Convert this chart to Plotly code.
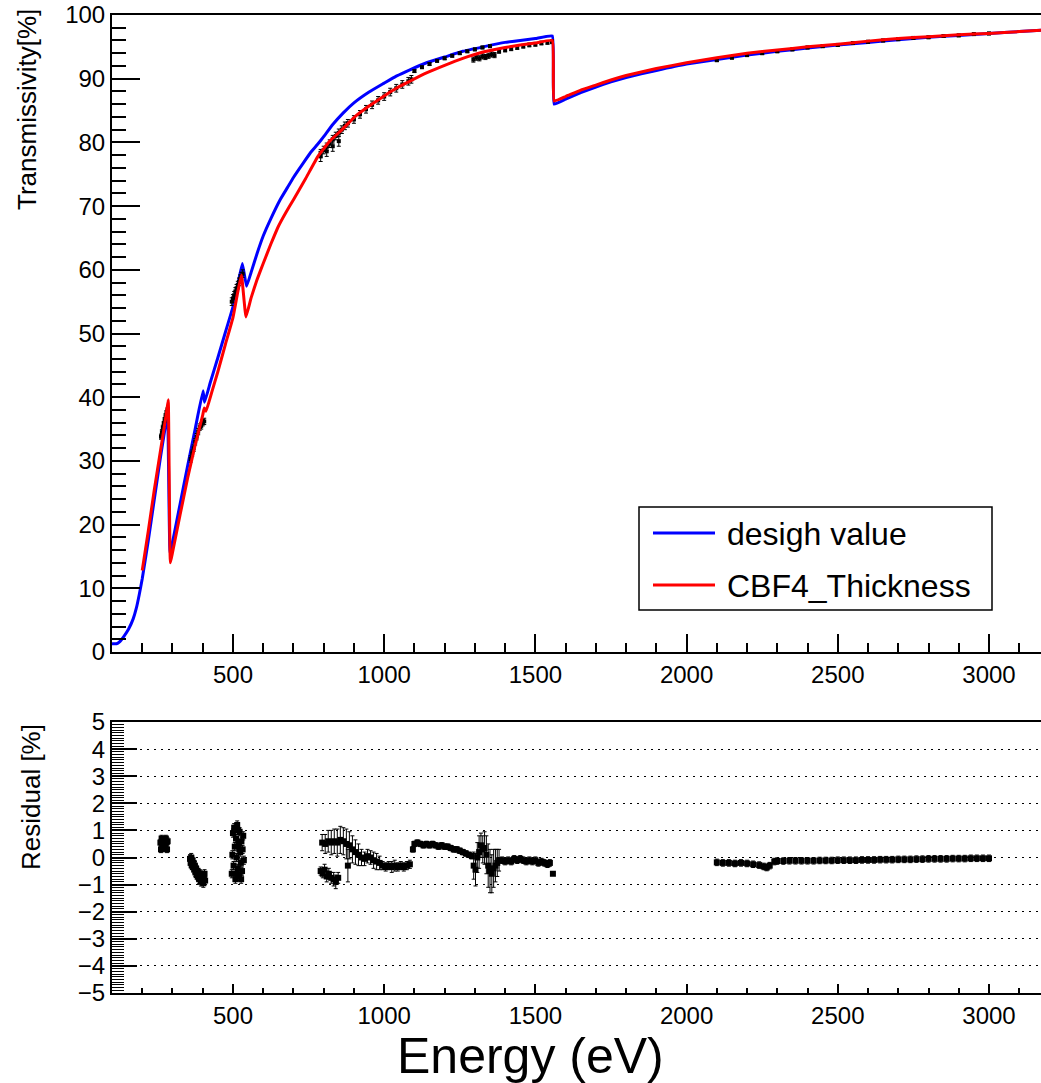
import plotly.graph_objects as go

# ---------------- data ----------------
# design value curve (blue)
design_E = [100, 115, 125, 140, 155, 170, 180, 190, 200, 220, 240, 260, 280, 284, 292, 300,
            325, 350, 375, 401, 406, 425, 450, 475, 500, 515, 531, 545, 560, 580, 600, 625,
            656, 680, 700, 730, 755, 780, 800, 830, 864, 900, 950, 1000, 1040, 1085, 1140,
            1200, 1260, 1327, 1400, 1450, 1500, 1556, 1562, 1600, 1650, 1700, 1750, 1800,
            1900, 2000, 2100, 2200, 2300, 2400, 2500, 2600, 2700, 2800, 2900, 3000, 3100, 3200]
design_T = [1.3, 1.3, 1.6, 2.5, 3.6, 5.2, 6.8, 9.0, 11.5, 17.5, 24.0, 30.5, 36.5, 37.8, 15.5, 17.2,
            23.2, 29.2, 35.0, 41.0, 39.2, 42.3, 46.2, 50.2, 54.2, 57.5, 61.0, 57.4, 59.6, 62.6, 65.3, 68.0,
            71.0, 72.9, 74.5, 76.6, 78.3, 79.7, 80.9, 82.8, 84.6, 86.2, 87.9, 89.3, 90.4, 91.4, 92.5,
            93.4, 94.3, 95.0, 95.7, 96.0, 96.3, 96.7, 86.0, 86.8, 87.8, 88.7, 89.5, 90.2,
            91.3, 92.3, 93.0, 93.7, 94.3, 94.8, 95.3, 95.7, 96.1, 96.5, 96.8, 97.1, 97.4, 97.7]

# CBF4_Thickness fit curve (red)
fit_E = [200, 220, 240, 260, 280, 286, 293, 300, 325, 350, 375, 400, 405, 411, 430, 450, 475,
         500, 515, 528, 543, 560, 580, 600, 625, 650, 675, 700, 740, 781, 820, 865, 900, 950,
         1000, 1040, 1085, 1140, 1200, 1260, 1327, 1400, 1450, 1500, 1556, 1562, 1600, 1650,
         1700, 1750, 1800, 1900, 2000, 2100, 2200, 2300, 2400, 2500, 2600, 2700, 2800, 2900,
         3000, 3100, 3200]
fit_T = [12.8, 19.0, 25.5, 31.5, 37.5, 39.6, 14.0, 15.6, 21.5, 27.3, 32.5, 37.2, 38.3, 37.8, 40.8,
         44.0, 48.3, 52.5, 56.3, 59.2, 52.6, 55.6, 58.5, 61.0, 64.0, 66.8, 69.0, 71.0, 74.3, 77.8,
         80.2, 82.2, 83.9, 85.7, 87.3, 88.5, 89.6, 90.9, 92.1, 93.2, 94.2, 94.9, 95.3, 95.6, 96.0,
         86.5, 87.2, 88.2, 89.0, 89.8, 90.5, 91.6, 92.5, 93.3, 94.0, 94.5, 95.0, 95.4, 95.9, 96.3,
         96.6, 96.9, 97.1, 97.4, 97.7]

# measured transmissivity points (energy, value, error) by segment
meas_E_A = [262, 265, 268, 271, 274, 277, 280, 283]
meas_T_A = [33.8, 34.5, 35.2, 35.8, 36.4, 37.0, 37.5, 37.9]
meas_E_B = [360, 365, 370, 375, 380, 385, 390, 395, 400, 405]
meas_T_B = [30.3, 31.2, 32.0, 33.0, 33.8, 34.6, 35.3, 35.5, 36.0, 36.2]
meas_E_C = [496, 500, 504, 508, 512, 516, 520, 524, 528, 532]
meas_T_C = [55.0, 55.5, 56.0, 56.6, 57.1, 57.6, 58.1, 58.6, 59.0, 59.4]
meas_E_D = [790, 800, 810, 820, 830, 840, 850, 860, 870, 880, 900, 920, 940, 960, 980, 1000,
            1020, 1040, 1060, 1080, 1090, 790, 810, 830, 850]
meas_T_D = [78.3, 78.8, 79.3, 79.8, 80.5, 81.0, 81.5, 82.0, 82.6, 83.0, 83.6, 84.4, 85.2, 85.9,
            86.6, 87.2, 87.9, 88.5, 89.1, 89.6, 89.9, 77.8, 78.6, 79.4, 80.2]
meas_E_F = [1100, 1125, 1150, 1175, 1200, 1225, 1250, 1275, 1300, 1325, 1350,
            1295, 1305, 1315, 1325, 1335, 1345, 1355, 1365,
            1380, 1400, 1420, 1440, 1460, 1480, 1500, 1520, 1540, 1555]
meas_T_F = [91.2, 91.8, 92.3, 92.8, 93.2, 93.6, 94.0, 94.3, 94.6, 94.9, 95.1,
            93.0, 93.3, 93.2, 93.5, 93.4, 93.6, 93.8, 93.7,
            94.3, 94.5, 94.7, 94.9, 95.1, 95.3, 95.4, 95.6, 95.7, 95.8]
meas_E_G = [2100, 2150, 2200, 2250, 2300, 2350, 2400, 2450, 2500, 2550, 2600, 2650, 2700,
            2750, 2800, 2850, 2900, 2950, 3000]
meas_T_G = [92.9, 93.3, 93.7, 94.0, 94.3, 94.6, 94.9, 95.1, 95.3, 95.6, 95.8, 96.0, 96.2,
            96.4, 96.5, 96.7, 96.8, 97.0, 97.1]
meas_err_A, meas_err_B, meas_err_C = 0.4, 0.5, 0.6
meas_err_D = [0.6] * 21 + [0.8] * 4
meas_err_F = [0.2] * 11 + [0.4] * 8 + [0.3] * 10
meas_err_G = 0.2

# residuals by segment
res_E_A = [260, 262, 264, 266, 268, 270, 272, 274, 276, 278, 280, 282, 284]
res_A = [0.55, 0.3, 0.7, 0.45, 0.6, 0.35, 0.65, 0.5, 0.4, 0.7, 0.55, 0.3, 0.6]
res_E_B = [358, 360, 362, 364, 366, 368, 370, 372, 374, 376, 378, 380, 382, 384, 386, 388,
           390, 392, 394, 396, 398, 400, 402, 404, 406, 408]
res_B = [-0.05, -0.2, 0.0, -0.3, -0.1, -0.35, -0.2, -0.45, -0.3, -0.55, -0.4, -0.65, -0.5, -0.7,
         -0.55, -0.8, -0.6, -0.75, -0.9, -0.65, -0.85, -0.7, -0.95, -0.75, -0.6, -0.85]
res_E_C = [496, 498, 500, 502, 504, 506, 508, 510, 511, 512, 514, 516, 517, 518, 520, 521, 522,
           524, 526, 527, 528, 530, 532, 534, 536]
res_C = [-0.6, 0.1, 0.9, -0.3, 1.1, 0.4, -0.8, 0.7, -0.6, 0.0, 1.2, -0.4, 1.0, 0.5, -0.7, 0.3,
         0.95, 0.2, -0.2, -0.8, 0.6, -0.5, 0.3, 0.8, -0.1]
res_E_D = [795, 805, 815, 825, 835, 845, 855, 865, 875, 885, 895, 905, 915, 925, 935, 945,
           955, 965, 975, 985, 995, 1005, 1015, 1025, 1035, 1045, 1055, 1065, 1075, 1085]
res_D = [0.55, 0.5, 0.6, 0.55, 0.6, 0.55, 0.65, 0.6, 0.5, 0.45, 0.3, 0.2, 0.1, 0.0, -0.05, 0.05,
         0.0, -0.1, -0.15, -0.2, -0.3, -0.35, -0.3, -0.35, -0.3, -0.35, -0.3, -0.35, -0.3, -0.25]
err_D = [0.3, 0.35, 0.4, 0.45, 0.45, 0.5, 0.5, 0.5, 0.55, 0.5, 0.5, 0.45, 0.4, 0.3, 0.25, 0.25,
         0.25, 0.3, 0.3, 0.25, 0.15, 0.15, 0.15, 0.2, 0.2, 0.15, 0.15, 0.15, 0.15, 0.15]
res_E_D2 = [790, 797, 803, 810, 817, 825, 833, 840, 848, 880]
res_D2 = [-0.5, -0.6, -0.45, -0.7, -0.6, -0.75, -0.8, -0.9, -0.75, -0.3]
err_D2 = [0.15, 0.15, 0.2, 0.2, 0.2, 0.2, 0.25, 0.25, 0.2, 0.6]
res_E_F = [1095, 1100, 1110, 1120, 1130, 1140, 1150, 1160, 1170, 1180, 1190, 1200, 1210, 1220,
           1230, 1240, 1250, 1260, 1270, 1280, 1290]
res_F = [0.3, 0.5, 0.55, 0.5, 0.45, 0.5, 0.45, 0.5, 0.45, 0.4, 0.45, 0.4, 0.4, 0.35,
         0.3, 0.3, 0.25, 0.2, 0.15, 0.1, 0.05]
res_E_F2 = [1296, 1302, 1308, 1314, 1320, 1326, 1332, 1338, 1344, 1350, 1356, 1362, 1368, 1374, 1380]
res_F2 = [-0.3, -0.45, 0.0, 0.2, 0.45, 0.3, 0.35, 0.1, -0.3, -0.5, -0.6, -0.4, -0.3, -0.2, -0.1]
err_F2 = [0.5, 0.6, 0.55, 0.6, 0.45, 0.5, 0.6, 0.7, 0.8, 0.8, 0.7, 0.7, 0.6, 0.5, 0.4]
res_E_F3 = [1390, 1400, 1410, 1420, 1430, 1440, 1450, 1460, 1470, 1480, 1490, 1500, 1510, 1520,
            1530, 1540, 1548, 1558]
res_F3 = [-0.1, -0.15, -0.1, -0.15, -0.05, -0.1, -0.05, -0.1, -0.15, -0.1, -0.15, -0.1, -0.2,
          -0.15, -0.2, -0.25, -0.2, -0.6]
res_E_G = [2100, 2120, 2140, 2160, 2180, 2200, 2220, 2240, 2255, 2265, 2275, 2290, 2300, 2320,
           2340, 2360, 2380, 2400, 2420, 2440, 2460, 2480, 2500, 2520, 2540, 2560, 2580, 2600,
           2620, 2640, 2660, 2680, 2700, 2720, 2740, 2760, 2780, 2800, 2820, 2840, 2860, 2880,
           2900, 2920, 2940, 2960, 2980, 3000]
res_G = [-0.18, -0.2, -0.2, -0.22, -0.2, -0.22, -0.25, -0.28, -0.33, -0.37, -0.3, -0.15,
         -0.13, -0.13, -0.12, -0.12, -0.12, -0.12, -0.12, -0.11, -0.11, -0.11, -0.1, -0.1,
         -0.1, -0.1, -0.09, -0.09, -0.09, -0.08, -0.08, -0.08, -0.07, -0.07, -0.07, -0.06,
         -0.06, -0.05, -0.05, -0.05, -0.05, -0.04, -0.04, -0.04, -0.03, -0.03, -0.03, -0.03]

x_range = [100, 3172]

# assemble the series
meas_E = meas_E_A + meas_E_B + meas_E_C + meas_E_D + meas_E_F + meas_E_G
meas_T = meas_T_A + meas_T_B + meas_T_C + meas_T_D + meas_T_F + meas_T_G
meas_err = ([meas_err_A] * len(meas_E_A) + [meas_err_B] * len(meas_E_B) +
            [meas_err_C] * len(meas_E_C) + meas_err_D + meas_err_F +
            [meas_err_G] * len(meas_E_G))

res_E = res_E_A + res_E_B + res_E_C + res_E_D + res_E_D2 + res_E_F + res_E_F2 + res_E_F3 + res_E_G
res_val = res_A + res_B + res_C + res_D + res_D2 + res_F + res_F2 + res_F3 + res_G
res_err = ([0.12] * len(res_A) + [0.15] * len(res_B) + [0.15] * len(res_C) + err_D + err_D2 +
           [0.1] * len(res_F) + err_F2 + [0.12] * (len(res_F3) - 1) + [0.03] +
           [0.12] * len(res_G))

# ---------------- figure ----------------
fig = go.Figure()
fig.add_trace(go.Scatter(x=design_E, y=design_T, mode="lines",
                         line=dict(color="#0000ff", width=3, shape="spline", smoothing=0.3),
                         xaxis="x", yaxis="y", showlegend=False, name="desigh value"))
fig.add_trace(go.Scatter(x=meas_E, y=meas_T, mode="markers",
                         marker=dict(color="black", size=4, symbol="square"),
                         error_y=dict(type="data", array=meas_err, color="black",
                                      thickness=1, width=2),
                         xaxis="x", yaxis="y", showlegend=False))
fig.add_trace(go.Scatter(x=fit_E, y=fit_T, mode="lines",
                         line=dict(color="#ff0000", width=3, shape="spline", smoothing=0.3),
                         xaxis="x", yaxis="y", showlegend=False, name="CBF4_Thickness"))
fig.add_trace(go.Scatter(x=res_E, y=res_val, mode="markers",
                         marker=dict(color="black", size=6, symbol="square"),
                         error_y=dict(type="data", array=res_err, color="black",
                                      thickness=1, width=2),
                         xaxis="x2", yaxis="y2", showlegend=False))

font_family = "Liberation Sans, Arial, sans-serif"
common = dict(showline=True, linecolor="black", linewidth=2, ticks="inside",
              tickcolor="black", zeroline=False, tickfont=dict(size=24, color="black"))

top_dom = [(993 - 652) / 978, 1]
bot_dom = [0, (993 - 722) / 978]

fig.update_layout(
    width=1041, height=1083,
    margin=dict(l=112, r=0, t=15, b=90),
    paper_bgcolor="white", plot_bgcolor="white",
    font=dict(family=font_family, color="black"),
    xaxis=dict(**common, range=x_range, tick0=0, dtick=500, ticklen=18, tickwidth=2,
               mirror=True, showgrid=False, anchor="y",
               minor=dict(dtick=100, ticklen=9, ticks="inside", tickcolor="black", tickwidth=2)),
    yaxis=dict(**common, range=[0, 100], dtick=10, ticklen=28, tickwidth=2, domain=top_dom,
               showgrid=False, anchor="x",
               minor=dict(dtick=2, ticklen=14, ticks="inside", tickcolor="black", tickwidth=2)),
    xaxis2=dict(**common, range=x_range, tick0=0, dtick=500, ticklen=9, tickwidth=1.5,
                mirror=True, showgrid=False, anchor="y2",
                minor=dict(dtick=100, ticklen=5, ticks="inside", tickcolor="black", tickwidth=1.5)),
    yaxis2=dict(**common, range=[-5, 5], dtick=1, ticklen=25, tickwidth=1.5, domain=bot_dom,
                showgrid=True, gridcolor="black", gridwidth=1.2, griddash="2px,5px",
                anchor="x2",
                minor=dict(dtick=0.1, ticklen=12, ticks="inside", tickcolor="black", tickwidth=1)),
)

# legend drawn in the top panel
fig.add_shape(type="rect", xref="x domain", yref="y domain",
              x0=(639 - 112) / 929, x1=(992 - 112) / 929,
              y0=(652 - 610) / 637, y1=(652 - 507) / 637,
              line=dict(color="black", width=1.5), fillcolor="white", layer="above")
legend_items = [("desigh value", "#0000ff", 533), ("CBF4_Thickness", "#ff0000", 585)]
for label, col, py in legend_items:
    fig.add_shape(type="line", xref="x domain", yref="y domain",
                  x0=(653 - 112) / 929, x1=(715 - 112) / 929,
                  y0=(652 - py) / 637, y1=(652 - py) / 637,
                  line=dict(color=col, width=3), layer="above")
    fig.add_annotation(text=label, xref="x domain", yref="y domain",
                       x=(725 - 112) / 929, y=(652 - py - 1) / 637, xanchor="left",
                       yanchor="middle", showarrow=False,
                       font=dict(size=32, color="black", family=font_family))

# axis titles
fig.add_annotation(text="Transmissivity[%]", xref="paper", yref="paper",
                   x=(27 - 112) / 929, y=(993 - 110) / 978, textangle=-90,
                   xanchor="center", yanchor="middle", showarrow=False,
                   font=dict(size=26, color="black", family=font_family))
fig.add_annotation(text="Residual [%]", xref="paper", yref="paper",
                   x=(31 - 112) / 929, y=(993 - 797) / 978, textangle=-90,
                   xanchor="center", yanchor="middle", showarrow=False,
                   font=dict(size=26, color="black", family=font_family))
fig.add_annotation(text="Energy (eV)", xref="paper", yref="paper",
                   x=(530 - 112) / 929, y=(993 - 1056) / 978,
                   xanchor="center", yanchor="middle", showarrow=False,
                   font=dict(size=50, color="black", family=font_family))

fig.write_html("out.html")
